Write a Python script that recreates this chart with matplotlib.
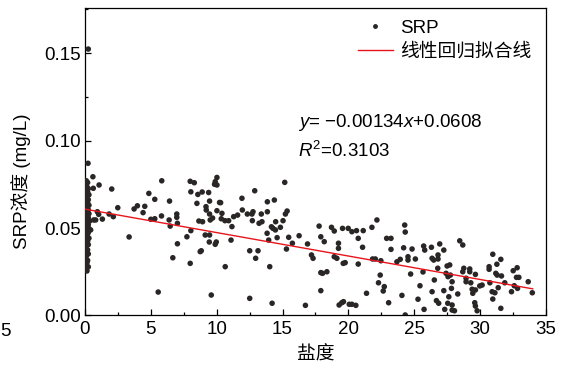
import matplotlib
matplotlib.use("Agg")
import matplotlib.pyplot as plt
from matplotlib.lines import Line2D
from matplotlib.ticker import MultipleLocator

plt.rcParams['font.family'] = ['Liberation Sans', 'Noto Sans CJK SC']
plt.rcParams['mathtext.fontset'] = 'custom'
plt.rcParams['mathtext.rm'] = 'Liberation Sans'
plt.rcParams['mathtext.it'] = 'Liberation Sans:italic'
plt.rcParams['axes.unicode_minus'] = False

# Fit parameters shown on the chart
SLOPE = -0.00134
INTERCEPT = 0.0608
R2 = 0.3103
FIT_X = [0.0, 34.0]

# Salinity ~0 stations (dense column)
col_sal = [0.10, 0.20, 0.05, 0.15, 0.25, 0.10, 0.20, 0.05, 0.30, 0.15, 0.10, 0.25, 0.05,
           0.20, 0.15, 0.30, 0.10, 0.05, 0.25, 0.20, 0.15, 0.30, 0.10, 0.05, 0.25, 0.20,
           0.15, 0.35, 0.10, 0.05, 0.25, 0.20, 0.15, 0.30, 0.10, 0.05, 0.25, 0.20, 0.15,
           0.10, 0.30, 0.05, 0.20, 0.15, 0.25, 0.10, 0.05, 0.20, 0.15, 0.25, 0.10, 0.05,
           0.20, 0.15, 0.10, 0.25, 0.05, 0.15, 0.25, 0.23]
col_srp = [0.0770, 0.0760, 0.0745, 0.0735, 0.0725, 0.0715, 0.0705, 0.0700, 0.0690, 0.0680,
           0.0670, 0.0662, 0.0655, 0.0645, 0.0638, 0.0630, 0.0620, 0.0612, 0.0605, 0.0598,
           0.0590, 0.0582, 0.0575, 0.0568, 0.0560, 0.0553, 0.0545, 0.0540, 0.0535, 0.0528,
           0.0520, 0.0512, 0.0505, 0.0497, 0.0490, 0.0482, 0.0475, 0.0467, 0.0458, 0.0450,
           0.0442, 0.0433, 0.0425, 0.0415, 0.0405, 0.0396, 0.0386, 0.0375, 0.0365, 0.0352,
           0.0340, 0.0328, 0.0315, 0.0302, 0.0290, 0.0278, 0.0265, 0.0255, 0.1523, 0.0870]

# Salinity 0.4 - 12
low_sal = [0.6, 0.63, 1.07, 2.03, 0.94, 1.04, 0.81, 0.66, 1.32, 1.83, 2.15, 2.49, 0.43, 3.35,
           3.73, 3.98, 4.41, 4.54, 4.85, 5.0, 5.3, 5.3, 5.56, 5.83, 5.81,
           6.42, 6.39, 6.47, 6.97, 6.97, 7.02, 7.02, 6.67, 7.99, 8.3, 8.04, 8.57, 8.9, 8.5,
           9.39, 9.46, 9.19, 9.21, 9.46, 9.51, 9.69, 10.02, 9.84, 10.02, 9.89, 10.22, 10.3,
           10.02, 10.4, 10.35, 10.63, 10.91, 11.29, 11.16, 11.59, 8.65, 8.93, 7.74, 8.04,
           9.13, 9.46, 9.44, 9.89, 9.97, 11.09, 8.83, 8.75, 7.99, 10.65, 9.59]
low_srp = [0.0793, 0.0727, 0.0746, 0.0723, 0.0593, 0.0578, 0.0546, 0.0546, 0.0551, 0.058,
           0.0565, 0.0616, 0.0489, 0.0449, 0.0609, 0.0627, 0.0588, 0.0624, 0.0698, 0.055,
           0.0553, 0.0664, 0.0134, 0.077, 0.0569,
           0.0654, 0.0546, 0.0511, 0.058, 0.0561, 0.0527, 0.041, 0.033, 0.0767, 0.0759,
           0.0707, 0.0692, 0.0706, 0.0641, 0.0703, 0.0654, 0.0622, 0.0603, 0.058, 0.0546,
           0.0557, 0.0789, 0.075, 0.0746, 0.0765, 0.0646, 0.0645, 0.0599, 0.0584, 0.0553,
           0.0542, 0.0542, 0.0565, 0.0508, 0.0574, 0.054, 0.0536, 0.045, 0.0485, 0.046,
           0.046, 0.042, 0.0407, 0.042, 0.0431, 0.037, 0.0365, 0.0298, 0.0279, 0.0117]

# Salinity 12 - 23.5
mid_sal = [11.92, 11.95, 12.33, 12.68, 12.76, 12.71, 12.89, 13.39, 13.22, 13.44, 13.85, 13.85,
           14.38, 14.48, 14.16, 14.28, 14.46, 14.84, 15.04, 15.22, 15.35, 15.17, 13.83, 13.95,
           14.59, 15.47, 15.3, 15.75, 16.26, 16.9, 12.51, 13.14, 12.96, 14.03, 17.2, 17.32,
           12.51, 14.21, 16.74,
           17.78, 17.91, 18.17, 18.72, 18.93, 19.25, 19.25, 18.93, 19.13, 19.56, 19.99, 20.27,
           20.62, 21.13, 20.75, 21.08, 19.76, 19.61, 20.75, 17.91, 18.04, 18.37, 21.79, 22.17,
           21.84, 22.05, 22.47, 22.91, 23.24, 23.24, 22.42, 22.29, 22.73, 22.65, 23.06, 21.38,
           17.91, 19.3, 19.5, 19.63, 20.07, 20.27, 20.57]
mid_srp = [0.067, 0.0603, 0.058, 0.058, 0.0593, 0.0542, 0.0713, 0.058, 0.0527, 0.0536, 0.065,
           0.0593, 0.066, 0.0536, 0.0507, 0.0498, 0.0489, 0.0504, 0.0542, 0.058, 0.0597,
           0.0761, 0.047, 0.0431, 0.0445, 0.0447, 0.038, 0.0413, 0.0456, 0.0409, 0.037, 0.037,
           0.0327, 0.0279, 0.0346, 0.0327, 0.0098, 0.007, 0.0058,
           0.0511, 0.045, 0.0422, 0.0504, 0.0483, 0.0413, 0.0384, 0.0336, 0.0327, 0.0498,
           0.0498, 0.0479, 0.0485, 0.0485, 0.0441, 0.039, 0.0302, 0.0298, 0.0294, 0.0245,
           0.0241, 0.025, 0.0504, 0.0546, 0.0323, 0.0323, 0.0313, 0.0441, 0.0441, 0.0378,
           0.0231, 0.0187, 0.0165, 0.014, 0.0073, 0.0127, 0.0142, 0.006, 0.0073, 0.0079,
           0.0064, 0.0064, 0.0058]

# Salinity 23.5 - 34
high_sal = [23.69, 23.94, 24.28, 24.32, 24.2, 24.53, 24.53, 24.84, 25.09, 24.73, 24.07, 25.29,
            25.44, 25.67, 25.72, 25.8, 26.31, 26.36, 26.48, 26.81, 26.81, 26.94, 27.25, 26.79,
            26.53, 26.36, 25.75, 26.69, 26.86, 27.25, 27.32, 27.5, 27.7, 27.42, 27.57, 27.75,
            27.88, 27.83, 27.63, 27.55, 27.88, 28.06, 27.88, 28.31, 28.46, 28.69, 28.77, 28.69,
            28.94, 28.94, 24.32,
            29.22, 29.22, 29.3, 29.4, 29.45, 29.65, 29.65, 29.6, 29.65, 29.78, 29.98, 30.16,
            30.69, 30.69, 30.97, 31.28, 31.58, 31.2, 31.3, 31.63, 30.75, 30.92, 31.13, 31.38,
            30.97, 31.88, 31.58, 32.52, 32.82, 32.77, 32.95, 32.6, 32.85, 32.39, 33.66, 33.97]
high_srp = [0.0307, 0.0321, 0.0517, 0.0477, 0.0387, 0.0336, 0.0317, 0.038, 0.0323, 0.0237,
            0.0115, 0.0093, 0.017, 0.0249, 0.0397, 0.0374, 0.039, 0.0327, 0.0317, 0.0346,
            0.0323, 0.0409, 0.0374, 0.027, 0.0203, 0.0136, 0.0035, 0.0085, 0.007, 0.0142,
            0.0035, 0.0283, 0.0289, 0.0241, 0.0222, 0.0231, 0.0193, 0.0155, 0.0107, 0.007,
            0.006, 0.0027, 0.0031, 0.0123, 0.0427, 0.0403, 0.027, 0.025, 0.0213, 0.0193, 0.0003,
            0.0266, 0.025, 0.0187, 0.015, 0.0127, 0.0235, 0.0146, 0.0073, 0.0054, 0.0027,
            0.0169, 0.0174, 0.0279, 0.0264, 0.035, 0.0293, 0.0321, 0.0241, 0.0231, 0.0226,
            0.0187, 0.0136, 0.013, 0.0159, 0.0094, 0.0187, 0.0041, 0.0256, 0.0273, 0.0218,
            0.0218, 0.017, 0.0155, 0.0136, 0.0193, 0.013]

salinity = col_sal + low_sal + mid_sal + high_sal
srp = col_srp + low_srp + mid_srp + high_srp

FS = 13.5
fig = plt.figure(figsize=(5.61, 3.69), dpi=100)
ax = fig.add_axes([0.1515, 0.145, 0.8215, 0.833])

ax.scatter(salinity, srp, s=16, color='#2a2626', edgecolors='none', zorder=3)
fit_y = [SLOPE * x + INTERCEPT for x in FIT_X]
ax.plot(FIT_X, fit_y, color='#e8141c', lw=1.0, zorder=4)

ax.set_xlim(0, 35)
ax.set_ylim(0, 0.1757)
ax.xaxis.set_major_locator(MultipleLocator(5))
ax.xaxis.set_minor_locator(MultipleLocator(2.5))
ax.yaxis.set_major_locator(MultipleLocator(0.05))
ax.yaxis.set_minor_locator(MultipleLocator(0.025))
ax.yaxis.set_major_formatter(plt.FuncFormatter(lambda v, p: f'{v:.2f}'))
ax.tick_params(which='both', direction='in', labelsize=FS, width=0.9)
ax.tick_params(which='major', length=4)
ax.tick_params(which='minor', length=2.5)
ax.tick_params(axis='x', which='major', pad=4)
ax.tick_params(axis='y', which='major', pad=3)
for sp in ax.spines.values():
    sp.set_linewidth(0.9)

ax.set_xlabel('盐度', fontsize=FS, labelpad=6)
ax.set_ylabel('SRP浓度 (mg/L)', fontsize=FS)
ax.yaxis.set_label_coords(-0.117, 0.437)

ax.text(16.2, 0.1105, r'$\mathit{y}$= $-$0.00134$\mathit{x}$+0.0608', fontsize=FS,
        va='center', ha='left')
ax.text(16.2, 0.0940, r'$\mathit{R}^2$=' + f'{R2:.4f}', fontsize=FS, va='center', ha='left')

handles = [Line2D([], [], marker='o', ls='none', color='#2a2626', markersize=2.5),
           Line2D([], [], color='#e8141c', lw=1.0)]
ax.legend(handles, ['SRP', '线性回归拟合线'], loc='upper left', frameon=False,
          fontsize=FS, handlelength=1.87, handletextpad=0.41, labelspacing=0.33,
          borderpad=0, borderaxespad=0, bbox_to_anchor=(0.592, 0.962))

# stray tick label at the far left edge
fig.text(0.001, 1 - 331 / 369, '5', fontsize=FS, ha='left', va='center')

fig.savefig('out.png', dpi=100)
